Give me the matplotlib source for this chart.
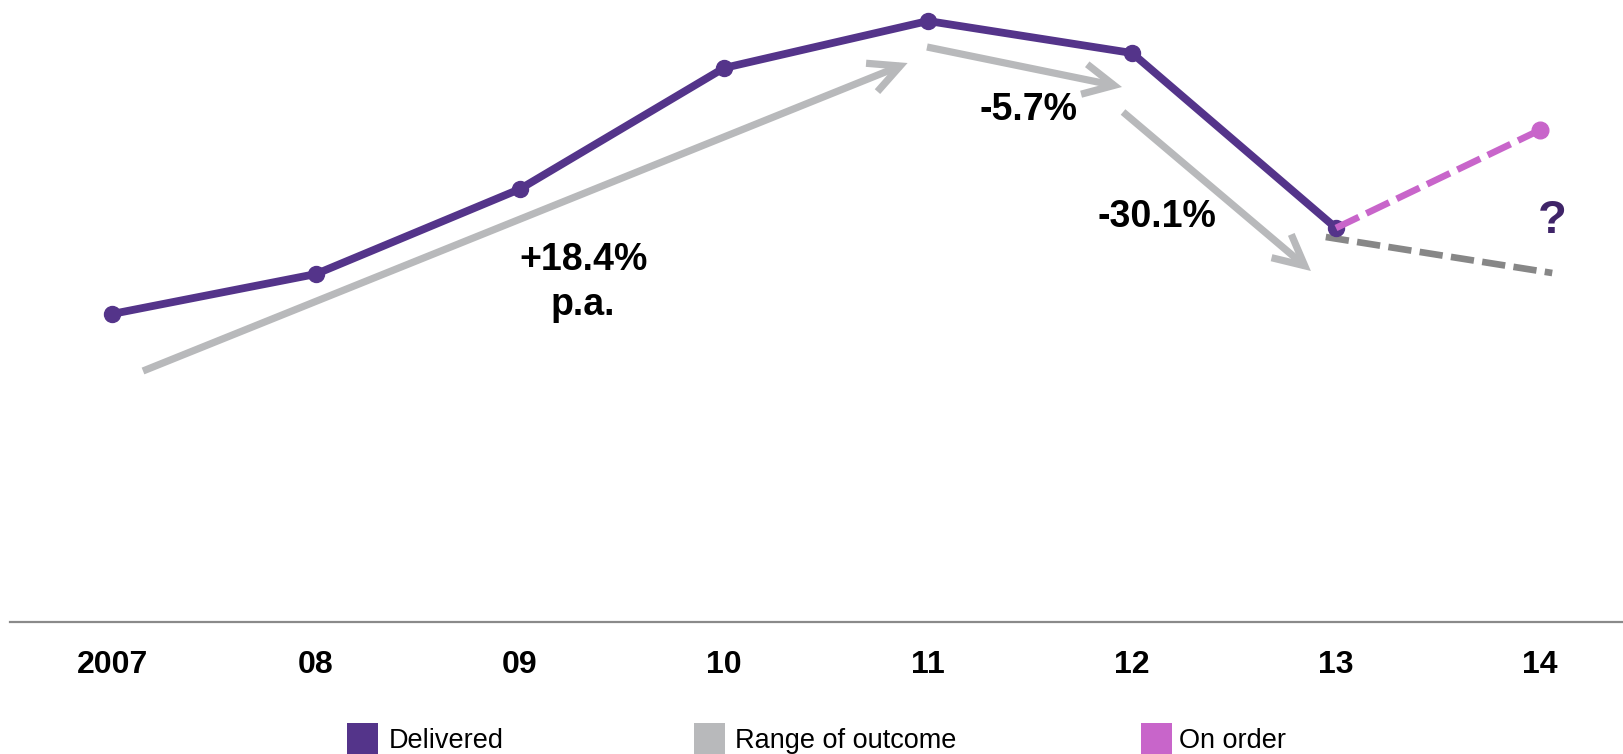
import matplotlib
matplotlib.use("Agg")
import matplotlib.pyplot as plt
from matplotlib.patches import FancyArrowPatch, Rectangle, ArrowStyle

# ---- data ----
years = ["2007", "08", "09", "10", "11", "12", "13", "14"]
delivered = [308, 348, 433, 554, 601, 569, 394]          # 2007..2013
on_order = [394, 492]                                      # 2013 -> 2014
outcome_x = [5.95, 7.06]                                   # low-range projection
outcome_low = [385, 349]
trend_labels = ["+18.4%", "p.a.", "-5.7%", "-30.1%"]
legend_labels = ["Delivered", "Range of outcome", "On order"]

# ---- colours ----
C_DEL = "#54348A"
C_RANGE = "#B8B9BB"
C_ORDER = "#C865CA"
C_DASH = "#878787"
C_Q = "#3F2468"

W, H, DPI = 1623, 754, 100
fig = plt.figure(figsize=(W / DPI, H / DPI), dpi=DPI)
ax = fig.add_axes([0, 0, 1, 1])
ax.set_xlim(-112 / 204, (W - 112) / 204)
ax.set_ylim(-132, 622)
ax.axis("off")

FONT = "Liberation Sans"

# baseline axis
ax.axhline(0, xmin=10 / W, xmax=1, color="#8A8A8A", lw=1.6)

# tick labels
for i, lab in enumerate(years):
    ax.text(i, -51, lab, ha="center", va="baseline", fontsize=23,
            fontweight="bold", family=FONT, color="black")

# trend arrows (annotations)
arrows = [((0.152, 251), (3.90, 559)),
          ((3.995, 575), (4.951, 535)),
          ((4.956, 510), (5.877, 351))]
style = ArrowStyle("->", head_length=22, head_width=11)
for a, b in arrows:
    p = FancyArrowPatch(a, b, arrowstyle=style, mutation_scale=1,
                        color=C_RANGE, lw=5.2, shrinkA=0, shrinkB=0,
                        capstyle="butt", joinstyle="miter", zorder=2)
    ax.add_patch(p)

# range-of-outcome dashed line
ax.plot(outcome_x, outcome_low, color=C_DASH, lw=4.8,
        dashes=(3.5, 1.25), solid_capstyle="butt", dash_capstyle="butt", zorder=3)

# delivered line
xs = list(range(len(delivered)))
ax.plot(xs, delivered, color=C_DEL, lw=5.6, marker="o", ms=11.5,
        solid_joinstyle="round", zorder=4)

# on order dashed line
ax.plot([6, 7], on_order, color=C_ORDER, lw=4.8, dashes=(3.8, 1.25),
        dash_capstyle="butt", zorder=5)
ax.plot([7], [on_order[1]], "o", color=C_ORDER, ms=12, zorder=5)

# annotation texts
FS = 27
ax.text(2.31, 352, trend_labels[0], ha="center", va="baseline", fontsize=FS,
        fontweight="bold", family=FONT)
ax.text(2.31, 307, trend_labels[1], ha="center", va="baseline", fontsize=FS,
        fontweight="bold", family=FONT)
ax.text(4.495, 502, trend_labels[2], ha="center", va="baseline", fontsize=FS,
        fontweight="bold", family=FONT)
ax.text(5.12, 395, trend_labels[3], ha="center", va="baseline", fontsize=FS,
        fontweight="bold", family=FONT)
ax.text(7.06, 389, "?", ha="center", va="baseline", fontsize=34,
        fontweight="bold", family=FONT, color=C_Q)

# legend (manual)
leg = [(347, 389, C_DEL), (694, 735, C_RANGE), (1141, 1179, C_ORDER)]
for (px, tx, col), lab in zip(leg, legend_labels):
    fig.add_artist(Rectangle((px / W, 0), 31 / W, (H - 723) / H,
                             transform=fig.transFigure, color=col, lw=0))
    fig.text(tx / W, (H - 748) / H, lab, ha="left", va="baseline",
             fontsize=19.5, family=FONT, color="black")

fig.savefig("out.png", dpi=DPI)
